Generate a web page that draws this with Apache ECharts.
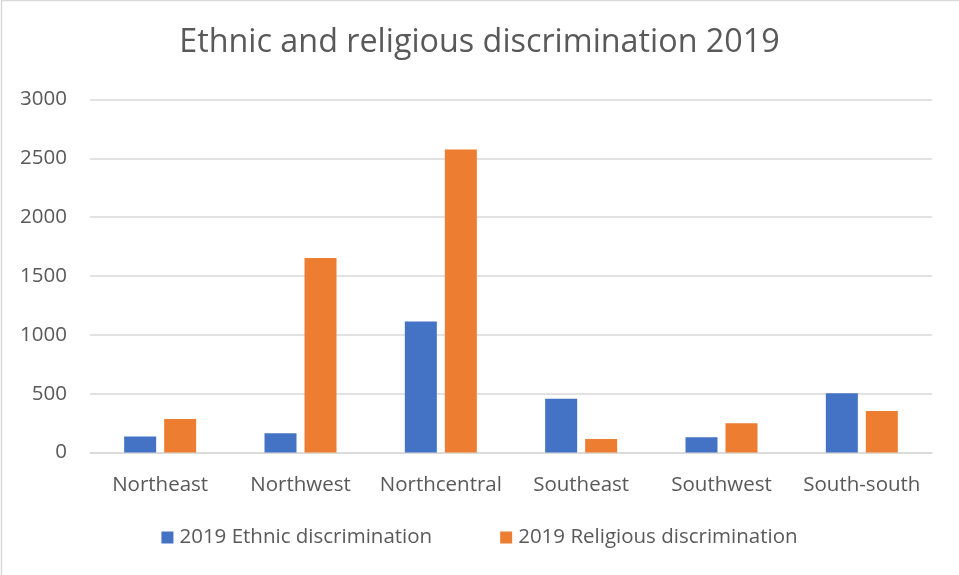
<!DOCTYPE html>
<html>
<head>
<meta charset="utf-8">
<script src="https://cdn.jsdelivr.net/npm/echarts@6/dist/echarts.min.js"></script>
<style>
html,body{margin:0;padding:0;background:#fff;}
#chart{width:959px;height:575px;}
</style>
</head>
<body>
<div id="chart"></div>
<script>
const categories = ["Northeast", "Northwest", "Northcentral", "Southeast", "Southwest", "South-south"];
const ethnic2019 = [135, 163, 1114, 457, 129, 503];
const religious2019 = [285, 1652, 2576, 115, 248, 352];
const yTicks = { min: 0, max: 3000, interval: 500 };

const FONT = "Open Sans";
const TXT = "#595959";
const chart = echarts.init(document.getElementById('chart'), null, { renderer: 'canvas' });
chart.setOption({
  animation: false,
  backgroundColor: '#ffffff',
  title: {
    text: 'Ethnic and religious discrimination 2019',
    left: 'center',
    top: 22,
    textStyle: { fontFamily: FONT, fontSize: 32.3, fontWeight: 'normal', color: TXT }
  },
  legend: {
    bottom: 22,
    left: 'center',
    itemWidth: 12,
    itemHeight: 12,
    itemGap: 68,
    icon: 'rect',
    textStyle: { fontFamily: FONT, fontSize: 20.5, color: TXT, padding: [0, 0, 0, 1] },
    data: ['2019 Ethnic discrimination', '2019 Religious discrimination']
  },
  grid: { left: 90, right: 27, top: 99.5, bottom: 122.5, containLabel: false },
  xAxis: {
    type: 'category',
    data: categories,
    axisLine: { show: true, lineStyle: { color: '#D9D9D9', width: 1.5 } },
    axisTick: { show: false },
    axisLabel: { fontFamily: FONT, fontSize: 20.5, color: TXT, margin: 22, interval: 0 }
  },
  yAxis: {
    type: 'value',
    min: yTicks.min,
    max: yTicks.max,
    interval: yTicks.interval,
    axisLine: { show: false },
    axisTick: { show: false },
    splitLine: { lineStyle: { color: '#D9D9D9', width: 1.5 } },
    axisLabel: { fontFamily: FONT, fontSize: 20.5, color: TXT, margin: 23, formatter: v => String(v) }
  },
  series: [
    {
      name: '2019 Ethnic discrimination',
      type: 'bar',
      data: ethnic2019,
      barWidth: 32,
      barGap: '25%',
      itemStyle: { color: '#4472C4' }
    },
    {
      name: '2019 Religious discrimination',
      type: 'bar',
      data: religious2019,
      barWidth: 32,
      barGap: '25%',
      itemStyle: { color: '#ED7D31' }
    }
  ],
  graphic: [{
    type: 'rect',
    shape: { x: 1.5, y: 0.5, width: 966, height: 590 },
    style: { fill: null, stroke: '#D9D9D9', lineWidth: 1.5 },
    silent: true
  }]
});
</script>
</body>
</html>
